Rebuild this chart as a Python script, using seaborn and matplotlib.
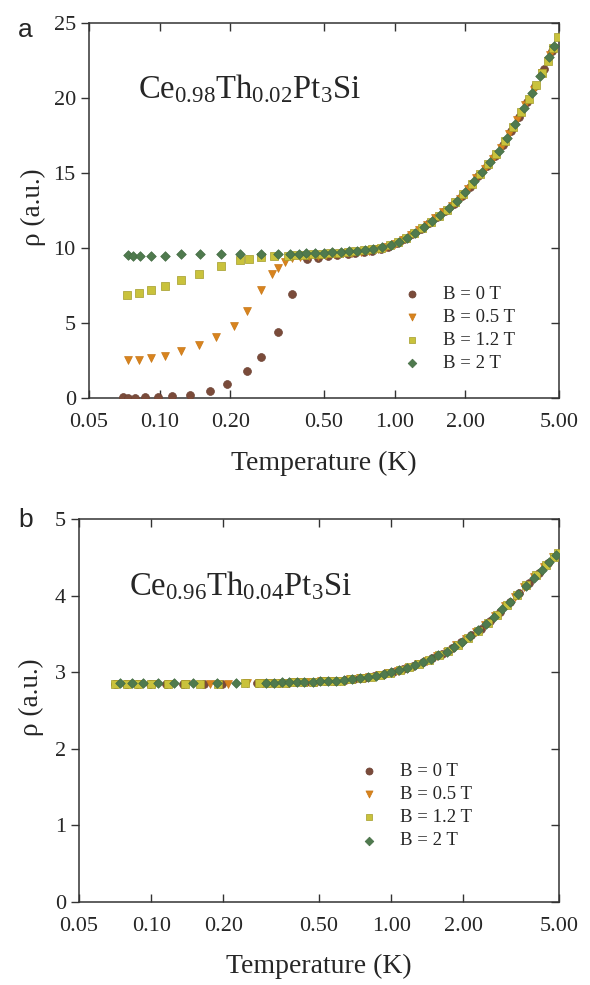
import matplotlib
matplotlib.use('Agg')
import matplotlib.pyplot as plt
import seaborn as sns
import pandas as pd

sns.set_style('ticks')
plt.rcParams['font.family'] = ['Liberation Serif', 'DejaVu Serif']
plt.rcParams['mathtext.fontset'] = 'custom'
plt.rcParams['mathtext.rm'] = 'Liberation Serif'
plt.rcParams['mathtext.it'] = 'Liberation Serif:italic'

# ── data: panel a (Ce0.98Th0.02Pt3Si) ───────────────────────────
a_T_0 = [0.070, 0.0735, 0.0785, 0.0865, 0.098, 0.113, 0.135, 0.164, 0.194, 0.235, 0.27, 0.318,
         0.364, 0.425, 0.47, 0.52, 0.57, 0.63, 0.68, 0.74, 0.80, 0.87, 0.94, 1.02, 1.10, 1.19,
         1.29, 1.40, 1.52, 1.64, 1.78, 1.93, 2.09, 2.27, 2.46, 2.66, 2.88, 3.12, 3.38, 3.66,
         3.97, 4.30, 4.65]
a_R_0 = [0.07, 0.0, 0.02, 0.04, 0.07, 0.11, 0.22, 0.5, 0.96, 1.8, 2.73, 4.4,
         6.96, 9.24, 9.35, 9.45, 9.52, 9.6, 9.66, 9.73, 9.82, 9.95, 10.1, 10.35, 10.6, 10.92,
         11.27, 11.65, 12.07, 12.5, 12.95, 13.47, 14.1, 14.8, 15.45, 16.1, 16.9, 17.8, 18.75, 19.75,
         20.8, 21.95, 23.15]

a_T_05 = [0.073, 0.082, 0.092, 0.105, 0.123, 0.147, 0.173, 0.206, 0.235, 0.27, 0.299, 0.318,
          0.341, 0.366, 0.395, 0.43, 0.47, 0.51, 0.55, 0.60, 0.66, 0.72, 0.78, 0.85, 0.92, 1.00,
          1.08, 1.17, 1.27, 1.37, 1.49, 1.61, 1.75, 1.89, 2.05, 2.22, 2.41, 2.61, 2.83, 3.06,
          3.32, 3.60, 3.90, 4.22, 4.57]
a_R_05 = [2.51, 2.56, 2.67, 2.82, 3.11, 3.51, 4.07, 4.8, 5.78, 7.22, 8.29, 8.69,
          9.1, 9.36, 9.4, 9.45, 9.5, 9.55, 9.6, 9.65, 9.7, 9.76, 9.83, 9.93, 10.06, 10.28,
          10.55, 10.85, 11.2, 11.55, 11.97, 12.38, 12.8, 13.3, 13.95, 14.65, 15.3, 15.95, 16.7, 17.6,
          18.55, 19.55, 20.55, 21.65, 22.9]

a_T_12 = [0.0723, 0.082, 0.0915, 0.105, 0.123, 0.147, 0.182, 0.22, 0.24, 0.27, 0.306, 0.35,
          0.38, 0.41, 0.45, 0.49, 0.53, 0.58, 0.63, 0.68, 0.74, 0.80, 0.87, 0.95, 1.03, 1.12,
          1.21, 1.31, 1.42, 1.54, 1.67, 1.81, 1.96, 2.13, 2.31, 2.50, 2.71, 2.94, 3.19, 3.46,
          3.72, 3.98, 4.24, 4.48, 4.72, 4.95]
a_R_12 = [6.84, 7.0, 7.18, 7.44, 7.84, 8.29, 8.8, 9.18, 9.29, 9.38, 9.47, 9.5,
          9.52, 9.55, 9.6, 9.63, 9.66, 9.7, 9.74, 9.79, 9.84, 9.91, 10.0, 10.17, 10.4, 10.67,
          10.98, 11.33, 11.72, 12.12, 12.55, 13.05, 13.6, 14.3, 14.95, 15.6, 16.3, 17.15, 18.05, 19.05,
          19.95, 20.85, 21.7, 22.45, 23.35, 24.05]

a_T_2 = [0.0735, 0.0767, 0.0825, 0.0915, 0.105, 0.123, 0.148, 0.182, 0.22, 0.27, 0.318, 0.36,
         0.39, 0.42, 0.46, 0.50, 0.54, 0.59, 0.64, 0.69, 0.75, 0.81, 0.88, 0.96, 1.04, 1.13,
         1.22, 1.33, 1.44, 1.56, 1.70, 1.84, 2.00, 2.17, 2.35, 2.55, 2.77, 3.00, 3.26, 3.54,
         3.84, 4.16, 4.52, 4.75]
a_R_2 = [9.51, 9.49, 9.44, 9.47, 9.49, 9.58, 9.58, 9.58, 9.58, 9.62, 9.62, 9.63,
         9.63, 9.65, 9.67, 9.69, 9.71, 9.74, 9.78, 9.82, 9.88, 9.95, 10.05, 10.2, 10.42, 10.7,
         11.02, 11.4, 11.8, 12.2, 12.65, 13.15, 13.75, 14.45, 15.1, 15.75, 16.5, 17.35, 18.3, 19.35,
         20.35, 21.45, 22.75, 23.45]

# ── data: panel b (Ce0.96Th0.04Pt3Si) ───────────────────────────
b_T_0 = [0.0706, 0.0784, 0.0872, 0.0987, 0.115, 0.136, 0.166, 0.198, 0.276, 0.31, 0.34, 0.37,
         0.40, 0.44, 0.48, 0.53, 0.58, 0.64, 0.70, 0.77, 0.85, 0.93, 1.02, 1.12, 1.23, 1.35,
         1.48, 1.63, 1.79, 1.96, 2.15, 2.36, 2.59, 2.84, 3.12, 3.42, 3.76, 4.12, 4.52]
b_R_0 = [2.85, 2.85, 2.85, 2.85, 2.85, 2.85, 2.85, 2.85, 2.86, 2.86, 2.86, 2.86,
         2.87, 2.87, 2.87, 2.88, 2.89, 2.90, 2.91, 2.93, 2.95, 2.97, 3.0, 3.04, 3.08, 3.13,
         3.18, 3.24, 3.31, 3.39, 3.48, 3.57, 3.67, 3.79, 3.91, 4.04, 4.17, 4.30, 4.43]

b_T_05 = [0.072, 0.08, 0.09, 0.103, 0.12, 0.14, 0.175, 0.209, 0.25, 0.29, 0.32, 0.355,
          0.39, 0.42, 0.46, 0.51, 0.56, 0.61, 0.67, 0.74, 0.81, 0.89, 0.97, 1.07, 1.17, 1.29,
          1.41, 1.55, 1.70, 1.87, 2.05, 2.25, 2.47, 2.71, 2.98, 3.27, 3.59, 3.94, 4.32, 4.7]
b_R_05 = [2.85, 2.85, 2.85, 2.85, 2.85, 2.85, 2.85, 2.85, 2.86, 2.86, 2.86, 2.86,
          2.87, 2.87, 2.87, 2.88, 2.88, 2.89, 2.91, 2.92, 2.94, 2.96, 2.99, 3.02, 3.06, 3.11,
          3.15, 3.21, 3.27, 3.35, 3.43, 3.52, 3.62, 3.73, 3.86, 3.98, 4.11, 4.24, 4.37, 4.50]

b_T_12 = [0.0706, 0.079, 0.088, 0.1, 0.117, 0.138, 0.16, 0.19, 0.246, 0.28, 0.305, 0.33,
          0.36, 0.39, 0.43, 0.47, 0.52, 0.57, 0.62, 0.68, 0.75, 0.82, 0.90, 0.99, 1.09, 1.19,
          1.31, 1.44, 1.58, 1.73, 1.90, 2.09, 2.29, 2.52, 2.76, 3.03, 3.33, 3.66, 4.02, 4.40,
          4.75, 4.95]
b_R_12 = [2.85, 2.85, 2.85, 2.85, 2.85, 2.85, 2.85, 2.85, 2.86, 2.86, 2.86, 2.86,
          2.86, 2.87, 2.87, 2.87, 2.88, 2.89, 2.89, 2.91, 2.92, 2.94, 2.96, 2.99, 3.03, 3.07,
          3.11, 3.16, 3.22, 3.28, 3.36, 3.45, 3.54, 3.64, 3.75, 3.88, 4.01, 4.14, 4.27, 4.40,
          4.51, 4.56]

b_T_2 = [0.0741, 0.0829, 0.0923, 0.107, 0.124, 0.149, 0.188, 0.226, 0.302, 0.325, 0.35, 0.375,
         0.405, 0.435, 0.47, 0.505, 0.545, 0.59, 0.635, 0.685, 0.74, 0.80, 0.86, 0.93, 1.0, 1.08,
         1.16, 1.25, 1.35, 1.46, 1.57, 1.70, 1.83, 1.98, 2.13, 2.30, 2.48, 2.68, 2.89, 3.12,
         3.37, 3.63, 3.92, 4.23, 4.56, 4.85]
b_R_2 = [2.86, 2.86, 2.86, 2.86, 2.86, 2.86, 2.86, 2.86, 2.86, 2.86, 2.87, 2.87,
         2.87, 2.87, 2.87, 2.88, 2.88, 2.89, 2.90, 2.91, 2.92, 2.94, 2.95, 2.97, 3.0, 3.03,
         3.06, 3.09, 3.13, 3.17, 3.22, 3.27, 3.33, 3.40, 3.47, 3.55, 3.63, 3.72, 3.82, 3.91,
         4.02, 4.13, 4.23, 4.33, 4.44, 4.53]

FIELDS = ['B = 0 T', 'B = 0.5 T', 'B = 1.2 T', 'B = 2 T']
MARKERS = ['o', 'v', 's', 'D']
COLORS = ['#7a4b3a', '#d8831e', '#c9c23c', '#4f7a4e']
EDGES = ['#6e4334', '#c87817', '#a39c2a', '#456d44']
SIZES = [32, 32, 28, 24]

XTICKS = [0.05, 0.1, 0.2, 0.5, 1, 2, 5]
XTICKLABELS = ['0.05', '0.10', '0.20', '0.50', '1.00', '2.00', '5.00']

panels = [
    dict(T=[a_T_0, a_T_05, a_T_12, a_T_2], R=[a_R_0, a_R_05, a_R_12, a_R_2],
         rect=[89/590, 1-398/985, 470/590, 375/985], ylim=(0, 25), yticks=list(range(0, 26, 5)),
         name=r'Ce$_{0.98}$Th$_{0.02}$Pt$_3$Si', leg=(0.667, 0.30), ylab=(-0.092, 0.51),
         xlab=-0.141),
    dict(T=[b_T_0, b_T_05, b_T_12, b_T_2], R=[b_R_0, b_R_05, b_R_12, b_R_2],
         rect=[79/590, 1-902/985, 480/590, 383/985], ylim=(0, 5), yticks=list(range(0, 6)),
         name=r'Ce$_{0.96}$Th$_{0.04}$Pt$_3$Si', leg=(0.585, 0.363), ylab=(-0.072, 0.535),
         xlab=-0.135),
]

fig = plt.figure(figsize=(5.9, 9.85), dpi=100)

for p in panels:
    ax = fig.add_axes(p['rect'])
    for i in range(4):
        df = pd.DataFrame({'T': p['T'][i], 'rho': p['R'][i]})
        sns.scatterplot(data=df, x='T', y='rho', marker=MARKERS[i], color=COLORS[i],
                        edgecolor=EDGES[i], linewidth=0.5, s=SIZES[i], label=FIELDS[i],
                        ax=ax, zorder=3 + i)
    ax.set_xscale('log')
    ax.set_xlim(0.05, 5)
    ax.set_ylim(*p['ylim'])
    ax.set_xticks(XTICKS)
    ax.set_xticklabels(XTICKLABELS)
    ax.minorticks_off()
    ax.set_yticks(p['yticks'])
    ax.tick_params(axis='x', direction='in', top=True, length=5.5, width=1.0,
                   labelsize=16, pad=11, color='#333333')
    # left ticks point out, right ticks point in
    ax.tick_params(axis='y', direction='out', left=True, right=False, length=5.5,
                   width=1.0, labelsize=16, pad=4, color='#333333')
    axr = ax.secondary_yaxis('right')
    axr.set_yticks(p['yticks'])
    axr.tick_params(direction='in', length=5.5, width=1.0, color='#333333',
                    labelright=False)
    axr.spines['right'].set_visible(False)
    for sp in ax.spines.values():
        sp.set_linewidth(1.1)
        sp.set_color('#333333')

    ax.set_xlabel('Temperature (K)', fontsize=20)
    ax.xaxis.set_label_coords(0.5, p['xlab'])
    ax.set_ylabel('ρ (a.u.)', fontsize=19.5)
    ax.yaxis.set_label_coords(p['ylab'][0], p['ylab'][1])

    ax.text(0.104, 0.80, p['name'], transform=ax.transAxes, fontsize=23.5,
            va='baseline', ha='left')

    ax.legend(loc='upper left', bbox_to_anchor=p['leg'], frameon=False, fontsize=13.5,
              handlelength=1.0, handletextpad=1.15, labelspacing=0.32, borderpad=0,
              borderaxespad=0, markerscale=0.9)

fig.text(18/590, 1-37/985, 'a', fontsize=19, family='Liberation Sans', va='baseline')
fig.text(18/590, 1-527/985, 'b', fontsize=19, family='Liberation Sans', va='baseline')

plt.savefig('out.png', dpi=100)
